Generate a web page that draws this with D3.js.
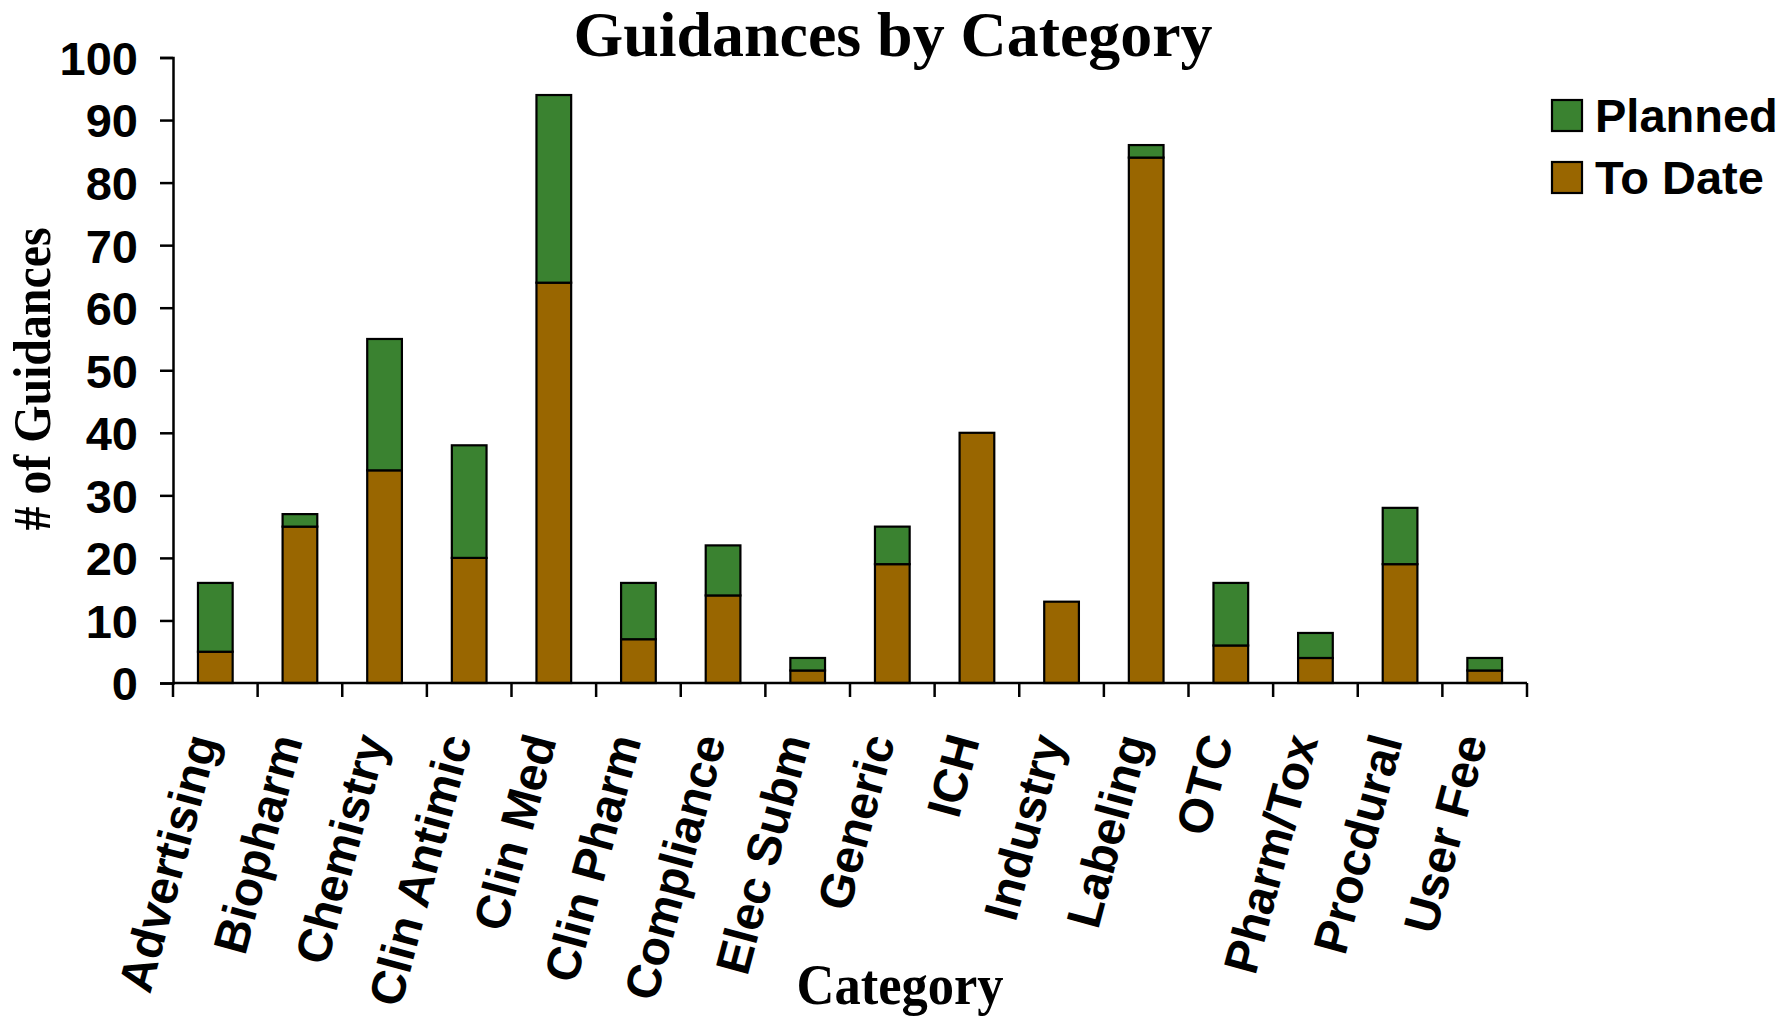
<!DOCTYPE html>
<html>
<head>
<meta charset="utf-8">
<script src="https://cdn.jsdelivr.net/npm/d3@7"></script>
<style>
  html, body { margin: 0; padding: 0; background: #fff; }
  svg { display: block; }
</style>
</head>
<body>
<svg id="chart" width="1788" height="1024"></svg>
<script>
// Guidance counts per review category
const categories = ["Advertising", "Biopharm", "Chemistry", "Clin Antimic", "Clin Med",
  "Clin Pharm", "Compliance", "Elec Subm", "Generic", "ICH", "Industry", "Labeling",
  "OTC", "Pharm/Tox", "Procdural", "User Fee"];
const toDate  = [5, 25, 34, 20, 64, 7, 14, 2, 19, 40, 13, 84, 6, 4, 19, 2];
const planned = [11, 2, 21, 18, 30, 9, 8, 2, 6, 0, 0, 2, 10, 4, 9, 2];
const seriesNames = ["To Date", "Planned"];
const seriesColors = ["#996600", "#3a8230"];
const yTicks = [0, 10, 20, 30, 40, 50, 60, 70, 80, 90, 100];

const svg = d3.select("#chart");
const plotLeft = 173, plotRight = 1527, plotTop = 57.5, plotBottom = 683;

const rows = categories.map((c, i) => ({ category: c, "To Date": toDate[i], "Planned": planned[i] }));
const stacked = d3.stack().keys(seriesNames)(rows);

const x = d3.scaleBand().domain(categories).range([plotLeft, plotRight]).paddingInner(0.59).paddingOuter(0.295);
const xBounds = d3.scaleLinear().domain([0, categories.length]).range([plotLeft, plotRight]);
const y = d3.scaleLinear().domain([0, 100]).range([plotBottom, plotTop]);
const color = d3.scaleOrdinal().domain(seriesNames).range(seriesColors);

// Title
svg.append("text")
  .attr("x", 893).attr("y", 56)
  .attr("text-anchor", "middle")
  .attr("font-family", "'Liberation Serif', 'Times New Roman', serif")
  .attr("font-weight", "bold").attr("font-size", 63)
  .attr("textLength", 639).attr("lengthAdjust", "spacingAndGlyphs")
  .text("Guidances by Category");

// Stacked bars
svg.append("g").selectAll("g")
  .data(stacked)
  .join("g")
  .attr("fill", d => color(d.key))
  .selectAll("rect")
  .data(d => d.filter(s => s[1] - s[0] > 0))
  .join("rect")
  .attr("x", d => x(d.data.category))
  .attr("width", x.bandwidth())
  .attr("y", d => y(d[1]))
  .attr("height", d => y(d[0]) - y(d[1]))
  .attr("stroke", "#000").attr("stroke-width", 2.2);

// Y axis
const yAxis = svg.append("g")
  .attr("transform", `translate(${plotLeft},0)`)
  .call(d3.axisLeft(y).tickValues(yTicks).tickSize(13).tickPadding(22));
yAxis.select(".domain").attr("stroke-width", 2.5);
yAxis.selectAll(".tick line").attr("stroke-width", 2.5);
yAxis.selectAll(".tick text")
  .attr("font-family", "'Liberation Sans', Arial, sans-serif")
  .attr("font-weight", "bold").attr("font-size", 47)
  .attr("dy", "0.36em").attr("fill", "#000");

// X axis baseline with ticks between categories
svg.append("line")
  .attr("x1", plotLeft).attr("x2", plotRight).attr("y1", plotBottom).attr("y2", plotBottom)
  .attr("stroke", "#000").attr("stroke-width", 2.5);
svg.append("g").selectAll("line")
  .data(d3.range(categories.length + 1))
  .join("line")
  .attr("x1", d => xBounds(d)).attr("x2", d => xBounds(d))
  .attr("y1", plotBottom).attr("y2", plotBottom + 14)
  .attr("stroke", "#000").attr("stroke-width", 2.5);

// Rotated category labels
svg.append("g").selectAll("text")
  .data(categories)
  .join("text")
  .attr("transform", d => `translate(${x(d) + x.bandwidth() / 2 + 3},${plotBottom + 57}) rotate(-75)`)
  .attr("text-anchor", "end")
  .attr("font-family", "'Liberation Sans', Arial, sans-serif")
  .attr("font-weight", "bold").attr("font-size", 48)
  .text(d => d);

// Axis titles
svg.append("text")
  .attr("x", 900).attr("y", 1004)
  .attr("text-anchor", "middle")
  .attr("font-family", "'Liberation Serif', 'Times New Roman', serif")
  .attr("font-weight", "bold").attr("font-size", 56)
  .attr("textLength", 207).attr("lengthAdjust", "spacingAndGlyphs")
  .text("Category");

svg.append("text")
  .attr("transform", "translate(50,379) rotate(-90)")
  .attr("text-anchor", "middle")
  .attr("font-family", "'Liberation Serif', 'Times New Roman', serif")
  .attr("font-weight", "bold").attr("font-size", 52)
  .attr("textLength", 303).attr("lengthAdjust", "spacingAndGlyphs")
  .text("# of Guidances");

// Legend
const legend = svg.append("g").selectAll("g")
  .data(["Planned", "To Date"])
  .join("g")
  .attr("transform", (d, i) => `translate(1552,${100 + i * 62})`);
legend.append("rect")
  .attr("width", 30).attr("height", 31)
  .attr("fill", d => color(d))
  .attr("stroke", "#000").attr("stroke-width", 2.2);
legend.append("text")
  .attr("x", 43).attr("y", 32)
  .attr("font-family", "'Liberation Sans', Arial, sans-serif")
  .attr("font-weight", "bold").attr("font-size", 47)
  .text(d => d);
</script>
</body>
</html>
